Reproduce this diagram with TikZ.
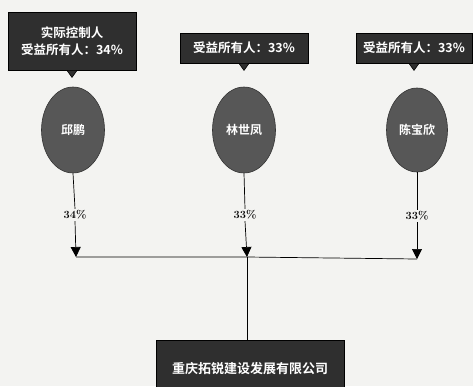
\documentclass[tikz,border=0pt]{standalone}
\usepackage{fontspec}
\newfontfamily\cjk{Noto Sans CJK SC}[BoldFont={* Bold}]
\usetikzlibrary{arrows.meta,calc,shapes.geometric}
\definecolor{bg}{HTML}{F3F3F1}
\definecolor{boxc}{HTML}{2F2F2F}
\definecolor{ellc}{HTML}{575757}
\tikzset{
  callout/.style={draw=black, fill=boxc, text=white, font=\cjk\bfseries\fontsize{12.5}{17}\selectfont, align=center, inner sep=4pt, line width=0.8pt},
  person/.style={ellipse, draw=black!80, fill=ellc, text=white, font=\cjk\bfseries\fontsize{12}{14}\selectfont, minimum width=63pt, minimum height=86pt, inner sep=0pt, line width=0.6pt},
  pct/.style={fill=bg, text=black, font=\fontsize{11}{13}\selectfont\bfseries, inner sep=1.5pt},
  company/.style={draw=black, fill=boxc, text=white, font=\cjk\bfseries\fontsize{13}{15}\selectfont, minimum width=188pt, minimum height=56pt, anchor=north, text depth=0pt, line width=0.8pt},
  conn/.style={draw=black, line width=0.7pt},
  arr/.style={conn, arrows={-{Triangle[width=10pt,length=10pt]}}},
  ptr/.style={fill=boxc, draw=black, line width=0.6pt}
}
\begin{document}
\begin{tikzpicture}[x=1pt,y=1pt]
\fill[bg] (0,0) rectangle (473,-386);
\useasboundingbox (0,0) rectangle (473,-386);
\clip (0,0) rectangle (473,-386);

% callouts
\node[callout, minimum width=128pt, minimum height=58pt] (t1) at (72,-41) {实际控制人\\受益所有人：34\%};
\node[callout, minimum width=128pt, minimum height=30pt] (t2) at (244,-48) {受益所有人：33\%};
\node[callout, minimum width=116pt, minimum height=30pt] (t3) at (414,-48) {受益所有人：33\%};
\foreach \t in {t1,t2,t3}{
  \path[ptr] ($(\t.south)+(-5,0)$) -- ($(\t.south)+(0,-7)$) -- ($(\t.south)+(5,0)$) -- cycle;
}

% persons
\node[person] (p1) at (73,-130) {邱鹏};
\node[person] (p2) at (244,-130) {林世凤};
\node[person, minimum width=61pt, minimum height=84pt] (p3) at (417,-130) {陈宝欣};

% percentage labels
\node[pct] (l1) at (75,-215) {34\%};
\node[pct] (l2) at (245,-215) {33\%};
\node[pct] (l3) at (417,-216) {33\%};

% bar coordinates
\coordinate (b1) at (76,-257);
\coordinate (b2) at (247,-257);
\coordinate (b3) at (417,-259);

\draw[conn] (p1.south) -- (l1.north);
\draw[conn] (p2.south) -- (l2.north);
\draw[conn] (p3.south) -- (l3.north);
\draw[arr] (l1.south) -- (b1);
\draw[arr] (l2.south) -- (b2);
\draw[arr] (l3.south) -- (b3);
\draw[conn] (b1) -- (b2) -- (b3);

% company
\node[company] (c) at (250,-340) {重庆拓锐建设发展有限公司};
\draw[conn] (b2) -- (b2 |- c.north);
\end{tikzpicture}
\end{document}
